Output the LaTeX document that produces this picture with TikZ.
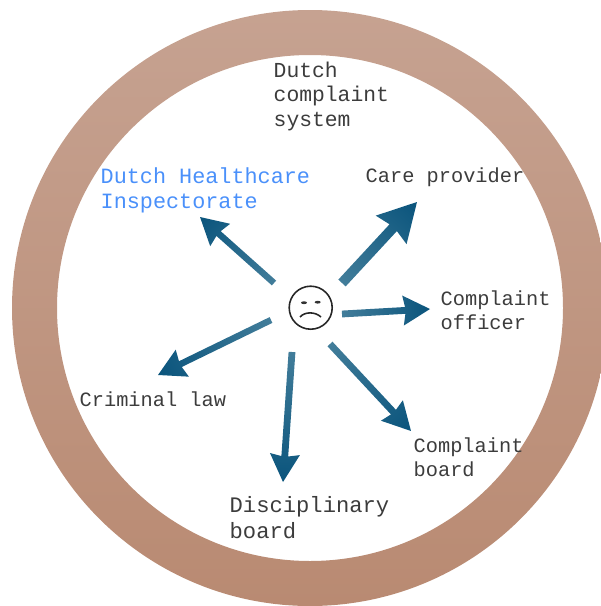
\documentclass[tikz,border=0pt]{standalone}
\usepackage{fontspec}
\setmonofont{Liberation Mono}
\usetikzlibrary{calc}
\definecolor{ringtop}{RGB}{198,162,145}
\definecolor{ringbottom}{RGB}{185,138,114}
\definecolor{arrowdark}{RGB}{10,84,124}
\definecolor{arrowlight}{RGB}{66,125,154}
\definecolor{labelgray}{RGB}{60,60,60}
\definecolor{labelblue}{RGB}{74,144,250}
\tikzset{
  lbl/.style 2 args={font=\fontsize{#1}{#2}\selectfont\ttfamily, text=labelgray, align=left, anchor=north west, inner sep=0pt},
  facestroke/.style={black!85, line width=0.45pt},
}
% tail, head, half shaft, half head, head length (all in px of the picture)
\newcommand{\gradarrow}[5]{
  \path let \p1=($(#2)-(#1)$), \n1={atan2(\y1,\x1)}, \n2={veclen(\x1,\y1)} in
    \pgfextra{\pgfmathsetmacro{\arrang}{\n1}\pgfmathsetmacro{\arrlen}{\n2}\global\let\arrang\arrang\global\let\arrlen\arrlen};
  \begin{scope}[transform canvas={shift={(#1)},rotate=\arrang}]
    \shade[x=1pt,y=1pt,left color=arrowlight,right color=arrowdark]
      (0,-#3*0.2845) -- ({\arrlen-#5*0.2845*0.92},-#3*0.2845) -- ({\arrlen-#5*0.2845},-#4*0.2845)
      -- (\arrlen,0) -- ({\arrlen-#5*0.2845},#4*0.2845) -- ({\arrlen-#5*0.2845*0.92},#3*0.2845)
      -- (0,#3*0.2845) -- cycle;
  \end{scope}
}
\begin{document}
\begin{tikzpicture}[x=0.01cm,y=-0.01cm]
	\useasboundingbox (0,0) rectangle (601,606);
	\clip (0,0) rectangle (601,606);
	\shade[even odd rule,top color=ringtop,bottom color=ringbottom] (310,308) circle[radius=298] (310,308) circle[radius=253];
	% labels
	\node[lbl={6.07pt}{6.97pt}] (system) at (273,61) {Dutch\\complaint\\system};
	\node[lbl={6.2pt}{7.1pt},text=labelblue] (inspectorate) at (100,167) {Dutch Healthcare\\Inspectorate};
	\node[lbl={5.78pt}{6.9pt}] (provider) at (365,167) {Care provider};
	\node[lbl={5.78pt}{6.85pt}] (officer) at (440,290) {Complaint\\officer};
	\node[lbl={5.78pt}{6.9pt}] (criminal) at (79,391) {Criminal law};
	\node[lbl={5.78pt}{6.7pt}] (board) at (413,437) {Complaint\\board};
	\node[lbl={6.3pt}{7.4pt}] (disciplinary) at (229,496) {Disciplinary\\board};
	% face
	\node[circle,draw=black!85,line width=0.45pt,minimum size=0.43cm,inner sep=0pt] (face) at (310.7,307.7) {};
	\fill[black!80] (304,302.7) ellipse[x radius=3,y radius=1.4];
	\fill[black!80] (317.7,302.2) ellipse[x radius=3,y radius=1.4];
	\draw[facestroke] (300,317) .. controls (305,311.5) and (315,311.5) .. (321,317);
	% arrows
	\coordinate (tailprovider) at (342,283); \coordinate (headprovider) at (417,202);
	\coordinate (tailofficer) at (342,314); \coordinate (headofficer) at (430,309);
	\coordinate (tailinspect) at (274,283); \coordinate (headinspect) at (200,217);
	\coordinate (tailcriminal) at (271,320); \coordinate (headcriminal) at (158,375);
	\coordinate (taildiscipl) at (292,352); \coordinate (headdiscipl) at (283,482);
	\coordinate (tailboard) at (330,344); \coordinate (headboard) at (411,431);
	\gradarrow{tailprovider}{headprovider}{5}{21}{38}
	\gradarrow{tailofficer}{headofficer}{3.4}{15}{27}
	\gradarrow{tailinspect}{headinspect}{3.2}{15}{27}
	\gradarrow{tailcriminal}{headcriminal}{3.2}{15}{27}
	\gradarrow{taildiscipl}{headdiscipl}{3.4}{15}{28}
	\gradarrow{tailboard}{headboard}{3.4}{15}{28}
\end{tikzpicture}
\end{document}
